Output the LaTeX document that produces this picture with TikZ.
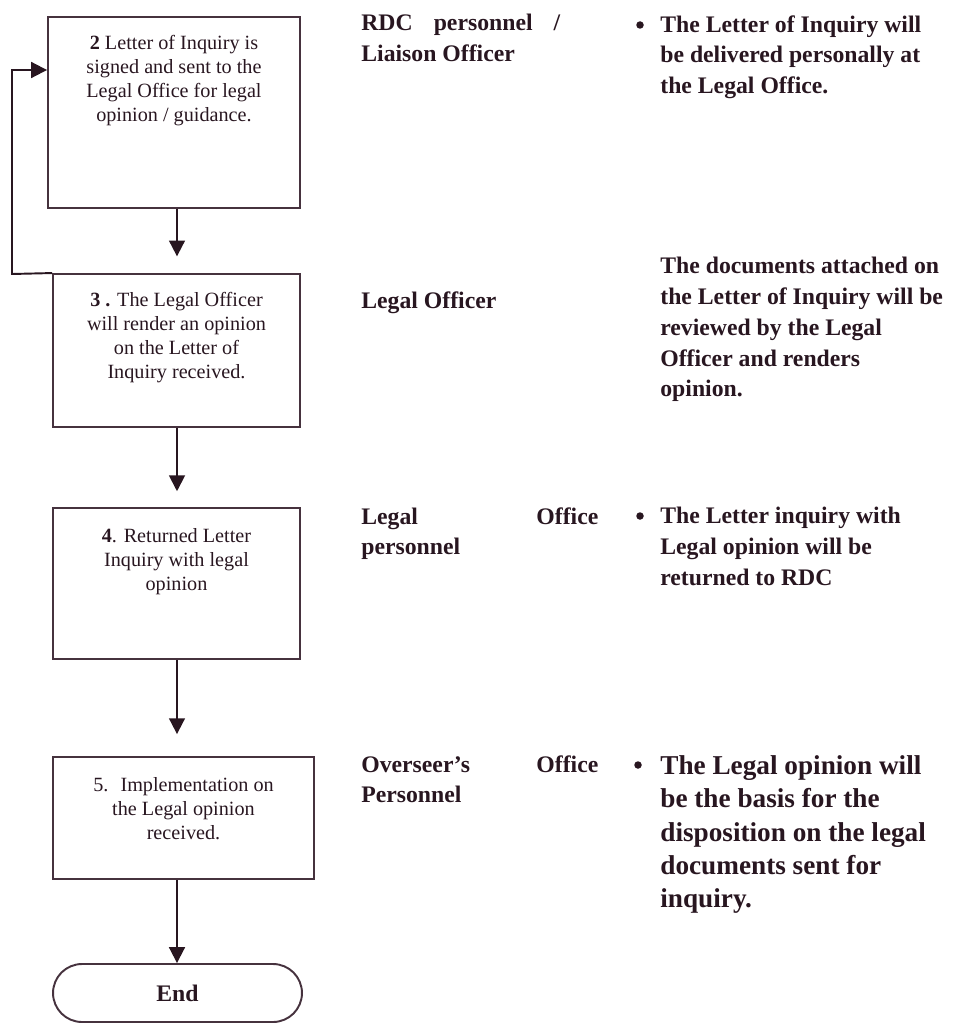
\documentclass[tikz,border=0pt]{standalone}
\usepackage{fontspec}
\setmainfont{Liberation Serif}
\usetikzlibrary{positioning,arrows.meta}
\definecolor{ink}{RGB}{40,22,32}
\definecolor{edge}{RGB}{70,50,62}

\begin{document}
\begin{tikzpicture}[x=0.02cm,y=-0.02cm,
    stepbox/.style={draw=edge, line width=1.1pt, inner sep=0pt},
    steptext/.style={inner sep=0pt, align=center, text=ink, font=\fontsize{11.5}{13.6}\selectfont},
    roletext/.style={anchor=north west, inner sep=0pt, text width=4.74cm, align=justify, text=ink, font=\bfseries\fontsize{13.5}{17.5}\selectfont},
    notetext/.style={anchor=north west, inner sep=0pt, align=left, text=ink, font=\bfseries\fontsize{13.5}{17.5}\selectfont},
    dot/.style={circle, fill=ink, inner sep=0pt, minimum size=0.15cm},
    flow/.style={draw=ink, line width=1.1pt, -{Triangle[length=9pt,width=9pt]}}]

  \useasboundingbox (0,0) rectangle (958,1024);

  % Steps
  \node[stepbox, minimum width=5.04cm, minimum height=3.82cm] (s2) at (174,112.5) {};
  \node[stepbox, minimum width=4.94cm, minimum height=3.06cm] (s3) at (176.5,350.5) {};
  \node[stepbox, minimum width=4.94cm, minimum height=3.02cm] (s4) at (176.5,583.5) {};
  \node[stepbox, minimum width=5.22cm, minimum height=2.44cm] (s5) at (183.5,818) {};
  \node[stepbox, rounded corners=0.58cm, minimum width=4.98cm, minimum height=1.16cm,
        text=ink, font=\bfseries\fontsize{13.5}{13.5}\selectfont] (stop) at (177.5,993) {End};

  \node[steptext, below=11pt of s2.north] (t2) {\textbf{2} Letter of Inquiry is\\signed and sent to the\\Legal Office for legal\\opinion / guidance.};
  \node[steptext, below=11pt of s3.north] (t3) {\textbf{3 .} The Legal Officer\\will render an opinion\\on the Letter of\\Inquiry received.};
  \node[steptext, below=12pt of s4.north] (t4) {\textbf{4}. Returned Letter\\Inquiry with legal\\opinion};
  \node[steptext, below=12pt of s5.north] (t5) {5.\hspace{0.6em}Implementation on\\the Legal opinion\\received.};

  % Arrows
  \coordinate (spine) at (177,0);
  \coordinate (loopa) at (12,274);
  \coordinate (loopb) at (12,70);
  \draw[flow, shorten >=9.5pt] (s2.south -| spine) -- (s3.north -| spine);
  \draw[flow, shorten >=9pt] (s3.south -| spine) -- (s4.north -| spine);
  \draw[flow, shorten >=12.5pt] (s4.south -| spine) -- (s5.north -| spine);
  \draw[flow] (s5.south -| spine) -- (stop.north -| spine);
  \draw[flow] (s3.north west) -- (loopa) -- (loopb) -- (loopb -| s2.west);

  % Who and what
  \node[roletext, text width=3.98cm] (r1) at (361,14) {RDC personnel /\linebreak Liaison Officer};
  \node[dot] (b1) at (640,25) {};
  \node[notetext] (n1) at (660,15) {The Letter of Inquiry will\\be delivered personally at\\the Legal Office.};

  \node[roletext] (r2) at (361,291) {Legal Officer};
  \node[notetext] (n2) at (660,257) {The documents attached on\\the Letter of Inquiry will be\\reviewed by the Legal\\Officer and renders\\opinion.};

  \node[roletext] (r3) at (361,507) {Legal Office\linebreak personnel};
  \node[dot] (b3) at (640,516) {};
  \node[notetext] (n3) at (660,507) {The Letter inquiry with\\Legal opinion will be\\returned to RDC};

  \node[roletext] (r4) at (361,755) {Overseer's Office\linebreak Personnel};
  \node[dot] (b4) at (638,765) {};
  \node[notetext, font=\bfseries\fontsize{15.5}{19}\selectfont] (n4) at (660,755) {The Legal opinion will\\be the basis for the\\disposition on the legal\\documents sent for\\inquiry.};
\end{tikzpicture}
\end{document}
